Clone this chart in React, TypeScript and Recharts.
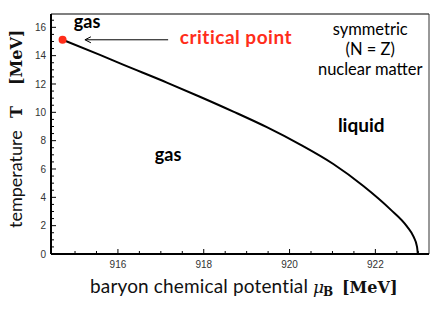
import React from 'react';
import { LineChart, Line, XAxis, YAxis, ReferenceDot, ReferenceLine } from 'recharts';

// coexistence curve
const muB = [914.71, 915.58, 916.05, 917.14, 917.91, 918.69, 919.47, 920.25, 921.02, 921.72, 922.35, 922.74, 922.89, 922.97, 922.99];
const temperature = [15.12, 14.05, 13.45, 12.1, 11.1, 10.05, 8.95, 7.72, 6.35, 4.8, 3.15, 1.93, 1.22, 0.52, 0.0];

const criticalMu = 914.71;
const criticalT = 15.12;

const xTicks = [915, 915.5, 916, 916.5, 917, 917.5, 918, 918.5, 919, 919.5, 920, 920.5, 921, 921.5, 922, 922.5, 923];
const xTickLabels = [916, 918, 920, 922];
const yTicks = [0, 0.5, 1, 1.5, 2, 2.5, 3, 3.5, 4, 4.5, 5, 5.5, 6, 6.5, 7, 7.5, 8, 8.5, 9, 9.5, 10, 10.5, 11, 11.5, 12, 12.5, 13, 13.5, 14, 14.5, 15, 15.5, 16, 16.5];
const yTickLabels = [0, 2, 4, 6, 8, 10, 12, 14, 16];

const xDomain = [914.44, 923.25];
const yDomain = [0, 16.94];

const data = muB.map((m, i) => ({ mu: m, T: temperature[i] }));

const SANS = 'Lato, "Open Sans", sans-serif';
const SERIF = '"DejaVu Serif", "Liberation Serif", serif';
const TICKFONT = '"Liberation Sans", Arial, sans-serif';
const RED = '#ff2d1a';

const XTick = (props: any) => {
  const { x, y, payload } = props;
  const major = xTickLabels.includes(payload.value);
  return (
    <g>
      <line x1={x} x2={x} y1={y} y2={y - (major ? 5 : 3)} stroke="#000" strokeWidth={1} />
      {major && (
        <text x={x} y={y + 14} textAnchor="middle" fontSize={10} fontFamily={TICKFONT} fill="#333">
          {payload.value}
        </text>
      )}
    </g>
  );
};

const YTick = (props: any) => {
  const { x, y, payload } = props;
  const major = yTickLabels.includes(payload.value);
  return (
    <g>
      <line x1={x} x2={x + (major ? 5 : 3)} y1={y} y2={y} stroke="#000" strokeWidth={1} />
      {major && (
        <text x={x - 5} y={y + 3.6} textAnchor="end" fontSize={10} fontFamily={TICKFONT} fill="#333">
          {payload.value}
        </text>
      )}
    </g>
  );
};

const textShape = (txt: string, opts: any) => (props: any) => {
  const { cx, cy } = props;
  return (
    <text x={cx} y={cy} textAnchor="middle" fontFamily={SANS} fill="#000" {...opts}>
      {txt}
    </text>
  );
};

const ArrowShape = (props: any) => {
  const { x1, y1, x2, y2 } = props;
  return (
    <g>
      <line x1={x1} y1={y1} x2={x2 + 1} y2={y2} stroke="#000" strokeWidth={1} />
      <path d={`M${x2 + 6},${y2 - 3} L${x2},${y2} L${x2 + 6},${y2 + 3}`} fill="none" stroke="#000" strokeWidth={1} />
    </g>
  );
};

const YLabel = () => (
  <text transform="translate(22,228) rotate(-90)" fill="#111">
    <tspan x={0} fontFamily={SANS} fontSize={18}>temperature</tspan>
    <tspan x={110} fontFamily={SERIF} fontWeight="bold" fontSize={16}>T</tspan>
    <tspan x={143} fontFamily={SERIF} fontWeight="bold" fontSize={16}>[MeV]</tspan>
  </text>
);

const XLabel = () => (
  <text y={293} fill="#111">
    <tspan x={90} fontFamily={SANS} fontSize={19} letterSpacing={0.15}>baryon chemical potential</tspan>
    <tspan x={313} fontFamily={SERIF} fontStyle="italic" fontSize={17}>μ</tspan>
    <tspan x={323} dy={3} fontFamily={SERIF} fontWeight="bold" fontSize={12}>B</tspan>
    <tspan x={342} dy={-3} fontFamily={SERIF} fontWeight="bold" fontSize={16}>[MeV]</tspan>
  </text>
);

export default function App() {
  return (
    <div style={{ position: 'absolute', left: 0, top: 0, background: '#fff' }}>
      <LineChart width={436} height={327} data={data} margin={{ top: 14, right: 7, bottom: 43, left: 6 }}>
        <XAxis
          dataKey="mu"
          type="number"
          domain={xDomain}
          ticks={xTicks}
          interval={0}
          tick={<XTick />}
          tickSize={0}
          tickMargin={0}
          tickLine={false}
          height={30}
          axisLine={{ stroke: '#000', strokeWidth: 2 }}
          allowDataOverflow
          label={{ content: () => <XLabel /> }}
        />
        <YAxis
          type="number"
          domain={yDomain}
          ticks={yTicks}
          interval={0}
          tick={<YTick />}
          tickSize={0}
          tickMargin={0}
          tickLine={false}
          width={45}
          axisLine={{ stroke: '#000', strokeWidth: 2 }}
          allowDataOverflow
          label={{ content: () => <YLabel /> }}
        />
        <ReferenceLine y={yDomain[1]} stroke="#000" strokeWidth={1.2} />
        <ReferenceLine x={xDomain[1]} stroke="#333" strokeWidth={1} />
        <Line
          dataKey="T"
          type="monotone"
          stroke="#000"
          strokeWidth={2}
          dot={false}
          isAnimationActive={false}
        />
        <ReferenceLine
          segment={[{ x: 917.17, y: criticalT }, { x: 915.23, y: criticalT }]}
          shape={<ArrowShape />}
        />
        <ReferenceDot x={criticalMu} y={criticalT} r={4} fill={RED} stroke="none" />
        <ReferenceDot x={915.28} y={15.95} r={0} shape={textShape('gas', { fontWeight: 'bold', fontSize: 18 })} />
        <ReferenceDot x={918.75} y={14.8} r={0} shape={textShape('critical point', { fontWeight: 'bold', fontSize: 19, letterSpacing: 0.5, fill: RED })} />
        <ReferenceDot x={921.88} y={15.45} r={0} shape={textShape('symmetric', { fontSize: 16.5 })} />
        <ReferenceDot x={921.88} y={14.04} r={0} shape={textShape('(N = Z)', { fontSize: 16.5 })} />
        <ReferenceDot x={921.88} y={12.63} r={0} shape={textShape('nuclear matter', { fontSize: 16.5 })} />
        <ReferenceDot x={921.67} y={8.61} r={0} shape={textShape('liquid', { fontWeight: 'bold', fontSize: 19 })} />
        <ReferenceDot x={917.17} y={6.56} r={0} shape={textShape('gas', { fontWeight: 'bold', fontSize: 18 })} />
      </LineChart>
    </div>
  );
}
